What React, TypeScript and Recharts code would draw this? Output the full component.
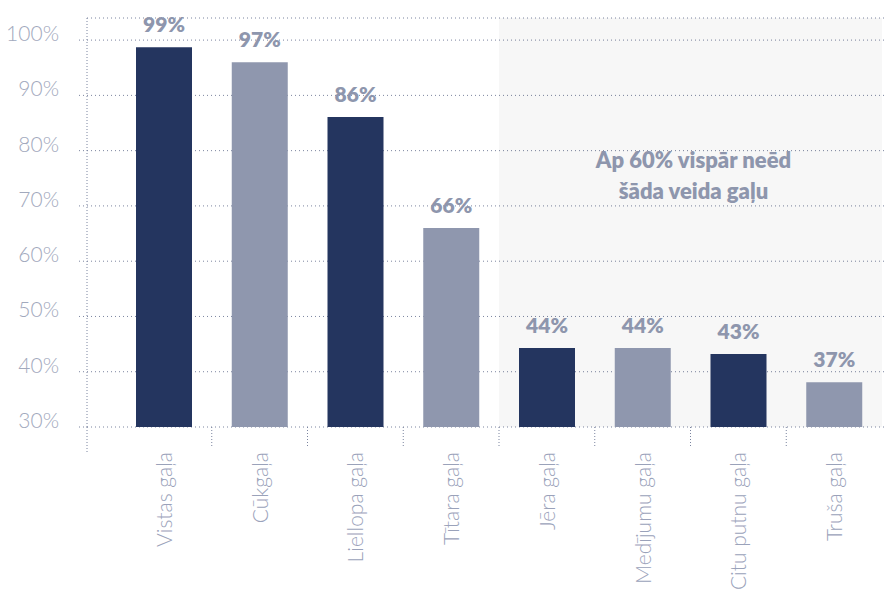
import { Bar, BarChart, CartesianGrid, Cell, LabelList, ReferenceArea, XAxis, YAxis } from "recharts";

const categories = [
  "Vistas gaļa",
  "Cūkgaļa",
  "Liellopa gaļa",
  "Tītara gaļa",
  "Jēra gaļa",
  "Medījumu gaļa",
  "Citu putnu gaļa",
  "Truša gaļa",
];
const shares = [98.7, 96.0, 86.1, 66.0, 44.3, 44.3, 43.2, 38.1];
const shareLabels = ["99%", "97%", "86%", "66%", "44%", "44%", "43%", "37%"];
const yTicks = [30, 40, 50, 60, 70, 80, 90, 100];
const noNeedFrom = "Jēra gaļa";
const noteLines = ["Ap 60% vispār neēd", "šāda veida gaļu"];

const data = categories.map((name, i) => ({ name, share: shares[i], label: shareLabels[i] }));

const WIDTH = 887;
const HEIGHT = 592;
const PLOT_LEFT = 87;
const FONT = "Lato, 'Open Sans', sans-serif";
const BAR_COLORS = ["#24355f", "#8f97ae"];
const GRID = "#7b849f";
const LABEL = "#8e96ad";

function YTick(props: any) {
  const { x, y, payload } = props;
  return (
    <text x={x} y={y + 1} textAnchor="end" fontFamily={FONT} fontWeight={300} fontSize={21} fill="#a2a9bd">
      {payload.value}%
    </text>
  );
}

function CategoryTick(props: any) {
  const { x, y, payload, index } = props;
  const half = payload.offset ?? 48;
  const lineX = index === 0 ? PLOT_LEFT : x - half;
  return (
    <g>
      <line x1={lineX} x2={lineX} y1={y} y2={y + (index === 0 ? 25 : 21)} stroke={GRID} strokeDasharray="1 2" />
      <text
        transform={`translate(${x + 8},${y + 25}) rotate(-90)`}
        textAnchor="end"
        fontFamily={FONT}
        fontWeight={300}
        fontSize={21}
        fill="#9aa2ba"
      >
        {payload.value}
      </text>
    </g>
  );
}

function ShareLabel(props: any) {
  const { x, y, width, value } = props;
  return (
    <text x={x + width / 2} y={y - 15} textAnchor="middle" fontFamily={FONT} fontWeight={800} fontSize={21} fill={LABEL}>
      {value}
    </text>
  );
}

function NoteLabel(props: any) {
  const vb = props.viewBox || {};
  const cx = vb.x + vb.width / 2 + 3;
  return (
    <g>
      {noteLines.map((line, i) => (
        <text key={i} x={cx} y={vb.y + 150 + i * 31} textAnchor="middle" fontFamily={FONT} fontWeight={800} fontSize={22} fill={LABEL}>
          {line}
        </text>
      ))}
    </g>
  );
}

export default function App() {
  return (
    <div style={{ position: "absolute", left: 0, top: 0, width: WIDTH, height: HEIGHT, background: "#fff" }}>
      <BarChart width={WIDTH} height={HEIGHT} data={data} margin={{ top: 18, right: 0, bottom: 0, left: 0 }}>
        <ReferenceArea x1={noNeedFrom} fill="#000" fillOpacity={0.031} stroke="none" label={NoteLabel} />
        <CartesianGrid vertical={false} stroke={GRID} strokeDasharray="1 3" />
        <YAxis
          width={PLOT_LEFT}
          domain={[30, 104]}
          ticks={yTicks}
          allowDataOverflow
          axisLine={{ stroke: GRID, strokeDasharray: "1 2" }}
          tickLine={{ stroke: GRID, strokeDasharray: "1 3" }}
          tickSize={8}
          tickMargin={20}
          tick={YTick}
        />
        <XAxis
          dataKey="name"
          height={HEIGHT - 427}
          padding={{ left: 29, right: 5 }}
          axisLine={false}
          tickLine={false}
          tickSize={0}
          tickMargin={0}
          interval={0}
          tick={CategoryTick}
        />
        <Bar dataKey="share" barSize={56} isAnimationActive={false}>
          {data.map((d, i) => (
            <Cell key={d.name} fill={BAR_COLORS[i % 2]} />
          ))}
          <LabelList dataKey="label" content={ShareLabel} />
        </Bar>
      </BarChart>
    </div>
  );
}
